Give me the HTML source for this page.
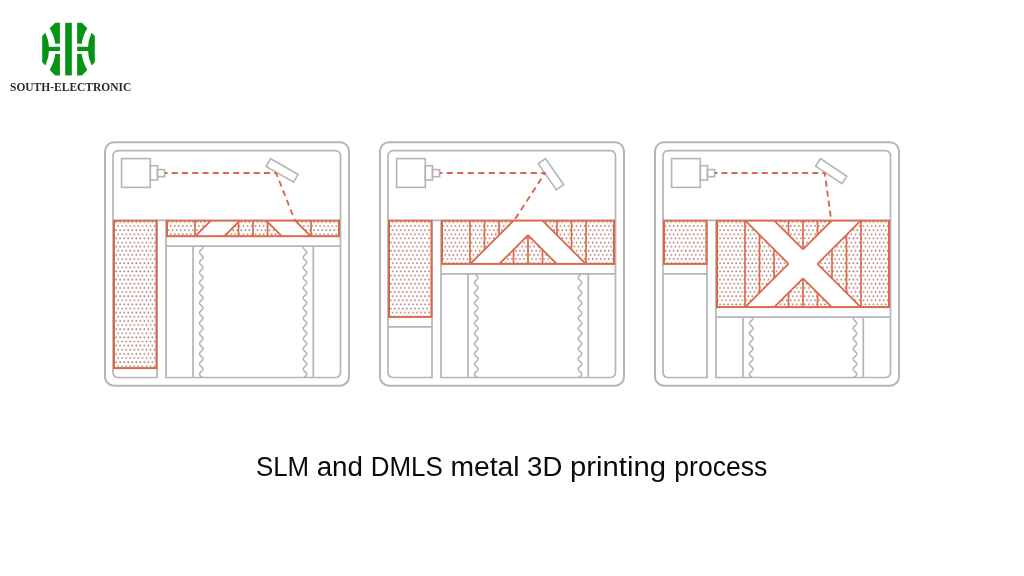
<!DOCTYPE html>
<html><head><meta charset="utf-8"><style>
html,body{margin:0;padding:0;background:#fff;width:1024px;height:576px;overflow:hidden}
svg{position:absolute;left:0;top:0;will-change:transform}
.t{position:absolute;white-space:nowrap;line-height:1}
</style></head><body>
<svg width="1024" height="576" viewBox="0 0 1024 576">
<defs>
<pattern id="dots0" patternUnits="userSpaceOnUse" x="115.1" y="219.84" width="4.04" height="8.25"><circle cx="1.0" cy="2.06" r="0.88" fill="#ad7265"/><circle cx="3.02" cy="6.185" r="0.88" fill="#ad7265"/></pattern><pattern id="dots1" patternUnits="userSpaceOnUse" x="116.7" y="219.84" width="4.04" height="8.25"><circle cx="1.0" cy="2.06" r="0.88" fill="#ad7265"/><circle cx="3.02" cy="6.185" r="0.88" fill="#ad7265"/></pattern><pattern id="dots2" patternUnits="userSpaceOnUse" x="116.5" y="219.84" width="4.04" height="8.25"><circle cx="1.0" cy="2.06" r="0.88" fill="#ad7265"/><circle cx="3.02" cy="6.185" r="0.88" fill="#ad7265"/></pattern>
</defs>
<g fill="#069416"><path d="M42.2,36.1 L45.5,32.8 A40.4,40.4 0 0 1 45.5,65.6 L42.2,62.3 Z M55.2,22.8 H59.9 V43.7 H55.2 A39.28,39.28 0 0 0 49.7,28.3 Z M55.2,75.4 H59.9 V54.0 H55.2 A39.28,39.28 0 0 1 49.7,69.9 Z M46.5,46.8 H59.9 V50.9 H46.5 Z"/><path d="M42.2,36.1 L45.5,32.8 A40.4,40.4 0 0 1 45.5,65.6 L42.2,62.3 Z M55.2,22.8 H59.9 V43.7 H55.2 A39.28,39.28 0 0 0 49.7,28.3 Z M55.2,75.4 H59.9 V54.0 H55.2 A39.28,39.28 0 0 1 49.7,69.9 Z M46.5,46.8 H59.9 V50.9 H46.5 Z" transform="translate(137,0) scale(-1,1)"/><rect x="65.2" y="22.8" width="6.6" height="52.6"/></g>
<text x="10" y="90.8" font-family="Liberation Serif" font-weight="bold" font-size="12.2" fill="#2b2b2b" textLength="121.3" lengthAdjust="spacingAndGlyphs">SOUTH-ELECTRONIC</text>
<g transform="translate(0,0)"><rect x="105" y="142.2" width="244" height="243.5" rx="9" fill="none" stroke="#b5b5b6" stroke-width="2"/><path d="M113,220.4 V155.6 A5,5 0 0 1 118,150.6 H335.5 A5,5 0 0 1 340.5,155.6 V372.5 A5,5 0 0 1 335.5,377.5 H166 V220.4 H157 V377.5 H118 A5,5 0 0 1 113,372.5 Z" fill="none" stroke="#b5b5b6" stroke-width="1.7"/><rect x="121.6" y="158.6" width="28.7" height="28.8" fill="none" stroke="#b5b5b6" stroke-width="1.6"/><rect x="150.3" y="165.7" width="7.2" height="14.3" fill="none" stroke="#b5b5b6" stroke-width="1.6"/><rect x="157.5" y="169.6" width="7.1" height="7.1" fill="none" stroke="#b5b5b6" stroke-width="1.6"/><rect x="0" y="0" width="31.7" height="8.9" fill="none" stroke="#b5b5b6" stroke-width="1.6" transform="translate(270.5,158.7) rotate(29.7)"/><path d="M166,246.2 H340.5 M193,246.2 V377.5 M313.3,246.2 V377.5" fill="none" stroke="#b5b5b6" stroke-width="1.7"/><path d="M202.66,246.2 L202.76,246.37 L202.84,246.53 L202.91,246.7 L202.96,246.87 L202.99,247.03 L203,247.2 L202.99,247.37 L202.97,247.53 L202.92,247.7 L202.86,247.87 L202.78,248.04 L202.69,248.2 L202.58,248.37 L202.45,248.54 L202.32,248.7 L202.17,248.87 L202.01,249.04 L201.84,249.2 L201.67,249.37 L201.49,249.54 L201.31,249.7 L201.13,249.87 L200.95,250.04 L200.78,250.2 L200.61,250.37 L200.44,250.54 L200.29,250.7 L200.14,250.87 L200.01,251.04 L199.89,251.21 L199.78,251.37 L199.69,251.54 L199.62,251.71 L199.56,251.87 L199.52,252.04 L199.5,252.21 L199.5,252.37 L199.52,252.54 L199.56,252.71 L199.61,252.87 L199.68,253.04 L199.77,253.21 L199.87,253.37 L199.99,253.54 L200.12,253.71 L200.27,253.87 L200.42,254.04 L200.59,254.21 L200.76,254.37 L200.93,254.54 L201.11,254.71 L201.29,254.88 L201.47,255.04 L201.65,255.21 L201.82,255.38 L201.99,255.54 L202.15,255.71 L202.3,255.88 L202.44,256.04 L202.56,256.21 L202.68,256.38 L202.77,256.54 L202.85,256.71 L202.92,256.88 L202.96,257.04 L202.99,257.21 L203,257.38 L202.99,257.54 L202.96,257.71 L202.92,257.88 L202.85,258.05 L202.77,258.21 L202.67,258.38 L202.56,258.55 L202.43,258.71 L202.29,258.88 L202.14,259.05 L201.98,259.21 L201.82,259.38 L201.64,259.55 L201.46,259.71 L201.28,259.88 L201.1,260.05 L200.93,260.21 L200.75,260.38 L200.58,260.55 L200.42,260.71 L200.26,260.88 L200.12,261.05 L199.99,261.22 L199.87,261.38 L199.77,261.55 L199.68,261.72 L199.61,261.88 L199.55,262.05 L199.52,262.22 L199.5,262.38 L199.5,262.55 L199.52,262.72 L199.56,262.88 L199.62,263.05 L199.69,263.22 L199.78,263.38 L199.89,263.55 L200.01,263.72 L200.15,263.88 L200.29,264.05 L200.45,264.22 L200.61,264.39 L200.78,264.55 L200.96,264.72 L201.14,264.89 L201.32,265.05 L201.5,265.22 L201.68,265.39 L201.85,265.55 L202.02,265.72 L202.17,265.89 L202.32,266.05 L202.46,266.22 L202.58,266.39 L202.69,266.55 L202.79,266.72 L202.87,266.89 L202.93,267.05 L202.97,267.22 L202.99,267.39 L203,267.56 L202.99,267.72 L202.96,267.89 L202.91,268.06 L202.84,268.22 L202.76,268.39 L202.66,268.56 L202.54,268.72 L202.41,268.89 L202.27,269.06 L202.12,269.22 L201.96,269.39 L201.79,269.56 L201.61,269.72 L201.44,269.89 L201.26,270.06 L201.07,270.22 L200.9,270.39 L200.72,270.56 L200.55,270.72 L200.39,270.89 L200.24,271.06 L200.1,271.23 L199.97,271.39 L199.85,271.56 L199.75,271.73 L199.67,271.89 L199.6,272.06 L199.55,272.23 L199.51,272.39 L199.5,272.56 L199.51,272.73 L199.53,272.89 L199.57,273.06 L199.63,273.23 L199.71,273.39 L199.8,273.56 L199.91,273.73 L200.03,273.89 L200.17,274.06 L200.32,274.23 L200.47,274.4 L200.64,274.56 L200.81,274.73 L200.99,274.9 L201.17,275.06 L201.35,275.23 L201.53,275.4 L201.71,275.56 L201.88,275.73 L202.04,275.9 L202.2,276.06 L202.35,276.23 L202.48,276.4 L202.6,276.56 L202.71,276.73 L202.8,276.9 L202.88,277.06 L202.93,277.23 L202.97,277.4 L203,277.57 L203,277.73 L202.98,277.9 L202.95,278.07 L202.9,278.23 L202.83,278.4 L202.74,278.57 L202.64,278.73 L202.52,278.9 L202.39,279.07 L202.25,279.23 L202.09,279.4 L201.93,279.57 L201.76,279.73 L201.59,279.9 L201.41,280.07 L201.23,280.23 L201.05,280.4 L200.87,280.57 L200.69,280.74 L200.53,280.9 L200.37,281.07 L200.21,281.24 L200.07,281.4 L199.95,281.57 L199.83,281.74 L199.74,281.9 L199.65,282.07 L199.59,282.24 L199.54,282.4 L199.51,282.57 L199.5,282.74 L199.51,282.9 L199.53,283.07 L199.58,283.24 L199.64,283.4 L199.72,283.57 L199.82,283.74 L199.93,283.9 L200.05,284.07 L200.19,284.24 L200.34,284.41 L200.5,284.57 L200.67,284.74 L200.84,284.91 L201.02,285.07 L201.2,285.24 L201.38,285.41 L201.56,285.57 L201.73,285.74 L201.9,285.91 L202.07,286.07 L202.22,286.24 L202.37,286.41 L202.5,286.57 L202.62,286.74 L202.73,286.91 L202.81,287.07 L202.89,287.24 L202.94,287.41 L202.98,287.58 L203,287.74 L203,287.91 L202.98,288.08 L202.94,288.24 L202.89,288.41 L202.81,288.58 L202.72,288.74 L202.62,288.91 L202.5,289.08 L202.37,289.24 L202.22,289.41 L202.07,289.58 L201.9,289.74 L201.73,289.91 L201.56,290.08 L201.38,290.24 L201.2,290.41 L201.02,290.58 L200.84,290.75 L200.67,290.91 L200.5,291.08 L200.34,291.25 L200.19,291.41 L200.05,291.58 L199.93,291.75 L199.82,291.91 L199.72,292.08 L199.64,292.25 L199.58,292.41 L199.53,292.58 L199.51,292.75 L199.5,292.91 L199.51,293.08 L199.54,293.25 L199.59,293.41 L199.65,293.58 L199.74,293.75 L199.83,293.92 L199.95,294.08 L200.08,294.25 L200.22,294.42 L200.37,294.58 L200.53,294.75 L200.69,294.92 L200.87,295.08 L201.05,295.25 L201.23,295.42 L201.41,295.58 L201.59,295.75 L201.76,295.92 L201.93,296.08 L202.09,296.25 L202.25,296.42 L202.39,296.58 L202.52,296.75 L202.64,296.92 L202.74,297.09 L202.83,297.25 L202.9,297.42 L202.95,297.59 L202.98,297.75 L203,297.92 L203,298.09 L202.97,298.25 L202.93,298.42 L202.88,298.59 L202.8,298.75 L202.71,298.92 L202.6,299.09 L202.48,299.25 L202.34,299.42 L202.2,299.59 L202.04,299.75 L201.88,299.92 L201.7,300.09 L201.53,300.25 L201.35,300.42 L201.17,300.59 L200.99,300.76 L200.81,300.92 L200.64,301.09 L200.47,301.26 L200.32,301.42 L200.17,301.59 L200.03,301.76 L199.91,301.92 L199.8,302.09 L199.71,302.26 L199.63,302.42 L199.57,302.59 L199.53,302.76 L199.51,302.92 L199.5,303.09 L199.51,303.26 L199.55,303.42 L199.6,303.59 L199.67,303.76 L199.75,303.93 L199.85,304.09 L199.97,304.26 L200.1,304.43 L200.24,304.59 L200.39,304.76 L200.55,304.93 L200.72,305.09 L200.9,305.26 L201.08,305.43 L201.26,305.59 L201.44,305.76 L201.62,305.93 L201.79,306.09 L201.96,306.26 L202.12,306.43 L202.27,306.59 L202.41,306.76 L202.54,306.93 L202.66,307.1 L202.76,307.26 L202.84,307.43 L202.91,307.6 L202.96,307.76 L202.99,307.93 L203,308.1 L202.99,308.26 L202.97,308.43 L202.93,308.6 L202.87,308.76 L202.79,308.93 L202.69,309.1 L202.58,309.26 L202.46,309.43 L202.32,309.6 L202.17,309.76 L202.02,309.93 L201.85,310.1 L201.68,310.27 L201.5,310.43 L201.32,310.6 L201.14,310.77 L200.96,310.93 L200.78,311.1 L200.61,311.27 L200.45,311.43 L200.29,311.6 L200.14,311.77 L200.01,311.93 L199.89,312.1 L199.78,312.27 L199.69,312.43 L199.62,312.6 L199.56,312.77 L199.52,312.93 L199.5,313.1 L199.5,313.27 L199.52,313.43 L199.55,313.6 L199.61,313.77 L199.68,313.94 L199.77,314.1 L199.87,314.27 L199.99,314.44 L200.12,314.6 L200.26,314.77 L200.42,314.94 L200.58,315.1 L200.75,315.27 L200.93,315.44 L201.11,315.6 L201.29,315.77 L201.47,315.94 L201.64,316.1 L201.82,316.27 L201.99,316.44 L202.15,316.6 L202.3,316.77 L202.43,316.94 L202.56,317.11 L202.67,317.27 L202.77,317.44 L202.85,317.61 L202.92,317.77 L202.96,317.94 L202.99,318.11 L203,318.27 L202.99,318.44 L202.96,318.61 L202.92,318.77 L202.85,318.94 L202.77,319.11 L202.68,319.27 L202.56,319.44 L202.44,319.61 L202.3,319.77 L202.15,319.94 L201.99,320.11 L201.82,320.28 L201.65,320.44 L201.47,320.61 L201.29,320.78 L201.11,320.94 L200.93,321.11 L200.75,321.28 L200.58,321.44 L200.42,321.61 L200.27,321.78 L200.12,321.94 L199.99,322.11 L199.87,322.28 L199.77,322.44 L199.68,322.61 L199.61,322.78 L199.55,322.94 L199.52,323.11 L199.5,323.28 L199.5,323.45 L199.52,323.61 L199.56,323.78 L199.62,323.95 L199.69,324.11 L199.78,324.28 L199.89,324.45 L200.01,324.61 L200.14,324.78 L200.29,324.95 L200.44,325.11 L200.61,325.28 L200.78,325.45 L200.96,325.61 L201.13,325.78 L201.32,325.95 L201.5,326.11 L201.67,326.28 L201.85,326.45 L202.01,326.61 L202.17,326.78 L202.32,326.95 L202.46,327.12 L202.58,327.28 L202.69,327.45 L202.79,327.62 L202.86,327.78 L202.92,327.95 L202.97,328.12 L202.99,328.28 L203,328.45 L202.99,328.62 L202.96,328.78 L202.91,328.95 L202.84,329.12 L202.76,329.28 L202.66,329.45 L202.54,329.62 L202.42,329.78 L202.27,329.95 L202.12,330.12 L201.96,330.29 L201.79,330.45 L201.62,330.62 L201.44,330.79 L201.26,330.95 L201.08,331.12 L200.9,331.29 L200.73,331.45 L200.56,331.62 L200.4,331.79 L200.24,331.95 L200.1,332.12 L199.97,332.29 L199.85,332.45 L199.75,332.62 L199.67,332.79 L199.6,332.95 L199.55,333.12 L199.51,333.29 L199.5,333.46 L199.5,333.62 L199.53,333.79 L199.57,333.96 L199.63,334.12 L199.7,334.29 L199.8,334.46 L199.91,334.62 L200.03,334.79 L200.16,334.96 L200.31,335.12 L200.47,335.29 L200.63,335.46 L200.81,335.62 L200.98,335.79 L201.16,335.96 L201.34,336.12 L201.52,336.29 L201.7,336.46 L201.87,336.63 L202.04,336.79 L202.19,336.96 L202.34,337.13 L202.48,337.29 L202.6,337.46 L202.71,337.63 L202.8,337.79 L202.87,337.96 L202.93,338.13 L202.97,338.29 L203,338.46 L203,338.63 L202.98,338.79 L202.95,338.96 L202.9,339.13 L202.83,339.29 L202.74,339.46 L202.64,339.63 L202.52,339.8 L202.39,339.96 L202.25,340.13 L202.1,340.3 L201.94,340.46 L201.77,340.63 L201.59,340.8 L201.41,340.96 L201.23,341.13 L201.05,341.3 L200.87,341.46 L200.7,341.63 L200.53,341.8 L200.37,341.96 L200.22,342.13 L200.08,342.3 L199.95,342.46 L199.84,342.63 L199.74,342.8 L199.66,342.96 L199.59,343.13 L199.54,343.3 L199.51,343.47 L199.5,343.63 L199.51,343.8 L199.53,343.97 L199.58,344.13 L199.64,344.3 L199.72,344.47 L199.81,344.63 L199.93,344.8 L200.05,344.97 L200.19,345.13 L200.34,345.3 L200.5,345.47 L200.66,345.63 L200.84,345.8 L201.01,345.97 L201.19,346.13 L201.37,346.3 L201.55,346.47 L201.73,346.64 L201.9,346.8 L202.06,346.97 L202.22,347.14 L202.36,347.3 L202.5,347.47 L202.62,347.64 L202.72,347.8 L202.81,347.97 L202.89,348.14 L202.94,348.3 L202.98,348.47 L203,348.64 L203,348.8 L202.98,348.97 L202.94,349.14 L202.89,349.3 L202.82,349.47 L202.73,349.64 L202.62,349.81 L202.5,349.97 L202.37,350.14 L202.23,350.31 L202.07,350.47 L201.91,350.64 L201.74,350.81 L201.56,350.97 L201.38,351.14 L201.2,351.31 L201.02,351.47 L200.84,351.64 L200.67,351.81 L200.5,351.97 L200.34,352.14 L200.2,352.31 L200.06,352.47 L199.93,352.64 L199.82,352.81 L199.72,352.98 L199.64,353.14 L199.58,353.31 L199.54,353.48 L199.51,353.64 L199.5,353.81 L199.51,353.98 L199.54,354.14 L199.59,354.31 L199.65,354.48 L199.73,354.64 L199.83,354.81 L199.94,354.98 L200.07,355.14 L200.21,355.31 L200.36,355.48 L200.52,355.64 L200.69,355.81 L200.86,355.98 L201.04,356.14 L201.22,356.31 L201.4,356.48 L201.58,356.65 L201.76,356.81 L201.93,356.98 L202.09,357.15 L202.24,357.31 L202.39,357.48 L202.52,357.65 L202.64,357.81 L202.74,357.98 L202.83,358.15 L202.9,358.31 L202.95,358.48 L202.98,358.65 L203,358.81 L203,358.98 L202.98,359.15 L202.94,359.31 L202.88,359.48 L202.8,359.65 L202.71,359.82 L202.6,359.98 L202.48,360.15 L202.35,360.32 L202.2,360.48 L202.05,360.65 L201.88,360.82 L201.71,360.98 L201.53,361.15 L201.35,361.32 L201.17,361.48 L200.99,361.65 L200.82,361.82 L200.64,361.98 L200.48,362.15 L200.32,362.32 L200.17,362.48 L200.04,362.65 L199.91,362.82 L199.8,362.99 L199.71,363.15 L199.63,363.32 L199.57,363.49 L199.53,363.65 L199.51,363.82 L199.5,363.99 L199.51,364.15 L199.55,364.32 L199.6,364.49 L199.66,364.65 L199.75,364.82 L199.85,364.99 L199.96,365.15 L200.09,365.32 L200.23,365.49 L200.39,365.65 L200.55,365.82 L200.72,365.99 L200.89,366.16 L201.07,366.32 L201.25,366.49 L201.43,366.66 L201.61,366.82 L201.78,366.99 L201.95,367.16 L202.12,367.32 L202.27,367.49 L202.41,367.66 L202.54,367.82 L202.65,367.99 L202.75,368.16 L202.84,368.32 L202.91,368.49 L202.95,368.66 L202.99,368.82 L203,368.99 L202.99,369.16 L202.97,369.33 L202.93,369.49 L202.87,369.66 L202.79,369.83 L202.7,369.99 L202.59,370.16 L202.46,370.33 L202.33,370.49 L202.18,370.66 L202.02,370.83 L201.85,370.99 L201.68,371.16 L201.5,371.33 L201.32,371.49 L201.14,371.66 L200.96,371.83 L200.79,371.99 L200.62,372.16 L200.45,372.33 L200.3,372.49 L200.15,372.66 L200.01,372.83 L199.89,373 L199.79,373.16 L199.7,373.33 L199.62,373.5 L199.56,373.66 L199.52,373.83 L199.5,374 L199.5,374.16 L199.52,374.33 L199.55,374.5 L199.61,374.66 L199.68,374.83 L199.76,375 L199.87,375.16 L199.98,375.33 L200.12,375.5 L200.26,375.66 L200.41,375.83 L200.58,376 L200.75,376.17 L200.92,376.33 L201.1,376.5 L201.28,376.67 L201.46,376.83 L201.64,377 L201.81,377.17 L201.98,377.33 L202.14,377.5" fill="none" stroke="#b5b5b6" stroke-width="1.6"/><path d="M303.54,246.2 L303.44,246.37 L303.36,246.53 L303.29,246.7 L303.24,246.87 L303.21,247.03 L303.2,247.2 L303.21,247.37 L303.23,247.53 L303.28,247.7 L303.34,247.87 L303.42,248.04 L303.51,248.2 L303.62,248.37 L303.75,248.54 L303.88,248.7 L304.03,248.87 L304.19,249.04 L304.36,249.2 L304.53,249.37 L304.71,249.54 L304.89,249.7 L305.07,249.87 L305.25,250.04 L305.42,250.2 L305.59,250.37 L305.76,250.54 L305.91,250.7 L306.06,250.87 L306.19,251.04 L306.31,251.21 L306.42,251.37 L306.51,251.54 L306.58,251.71 L306.64,251.87 L306.68,252.04 L306.7,252.21 L306.7,252.37 L306.68,252.54 L306.64,252.71 L306.59,252.87 L306.52,253.04 L306.43,253.21 L306.33,253.37 L306.21,253.54 L306.08,253.71 L305.93,253.87 L305.78,254.04 L305.61,254.21 L305.44,254.37 L305.27,254.54 L305.09,254.71 L304.91,254.88 L304.73,255.04 L304.55,255.21 L304.38,255.38 L304.21,255.54 L304.05,255.71 L303.9,255.88 L303.76,256.04 L303.64,256.21 L303.52,256.38 L303.43,256.54 L303.35,256.71 L303.28,256.88 L303.24,257.04 L303.21,257.21 L303.2,257.38 L303.21,257.54 L303.24,257.71 L303.28,257.88 L303.35,258.05 L303.43,258.21 L303.53,258.38 L303.64,258.55 L303.77,258.71 L303.91,258.88 L304.06,259.05 L304.22,259.21 L304.38,259.38 L304.56,259.55 L304.74,259.71 L304.92,259.88 L305.1,260.05 L305.27,260.21 L305.45,260.38 L305.62,260.55 L305.78,260.71 L305.94,260.88 L306.08,261.05 L306.21,261.22 L306.33,261.38 L306.43,261.55 L306.52,261.72 L306.59,261.88 L306.65,262.05 L306.68,262.22 L306.7,262.38 L306.7,262.55 L306.68,262.72 L306.64,262.88 L306.58,263.05 L306.51,263.22 L306.42,263.38 L306.31,263.55 L306.19,263.72 L306.05,263.88 L305.91,264.05 L305.75,264.22 L305.59,264.39 L305.42,264.55 L305.24,264.72 L305.06,264.89 L304.88,265.05 L304.7,265.22 L304.52,265.39 L304.35,265.55 L304.18,265.72 L304.03,265.89 L303.88,266.05 L303.74,266.22 L303.62,266.39 L303.51,266.55 L303.41,266.72 L303.33,266.89 L303.27,267.05 L303.23,267.22 L303.21,267.39 L303.2,267.56 L303.21,267.72 L303.24,267.89 L303.29,268.06 L303.36,268.22 L303.44,268.39 L303.54,268.56 L303.66,268.72 L303.79,268.89 L303.93,269.06 L304.08,269.22 L304.24,269.39 L304.41,269.56 L304.59,269.72 L304.76,269.89 L304.94,270.06 L305.13,270.22 L305.3,270.39 L305.48,270.56 L305.65,270.72 L305.81,270.89 L305.96,271.06 L306.1,271.23 L306.23,271.39 L306.35,271.56 L306.45,271.73 L306.53,271.89 L306.6,272.06 L306.65,272.23 L306.69,272.39 L306.7,272.56 L306.69,272.73 L306.67,272.89 L306.63,273.06 L306.57,273.23 L306.49,273.39 L306.4,273.56 L306.29,273.73 L306.17,273.89 L306.03,274.06 L305.88,274.23 L305.73,274.4 L305.56,274.56 L305.39,274.73 L305.21,274.9 L305.03,275.06 L304.85,275.23 L304.67,275.4 L304.49,275.56 L304.32,275.73 L304.16,275.9 L304,276.06 L303.85,276.23 L303.72,276.4 L303.6,276.56 L303.49,276.73 L303.4,276.9 L303.32,277.06 L303.27,277.23 L303.23,277.4 L303.2,277.57 L303.2,277.73 L303.22,277.9 L303.25,278.07 L303.3,278.23 L303.37,278.4 L303.46,278.57 L303.56,278.73 L303.68,278.9 L303.81,279.07 L303.95,279.23 L304.11,279.4 L304.27,279.57 L304.44,279.73 L304.61,279.9 L304.79,280.07 L304.97,280.23 L305.15,280.4 L305.33,280.57 L305.51,280.74 L305.67,280.9 L305.83,281.07 L305.99,281.24 L306.13,281.4 L306.25,281.57 L306.37,281.74 L306.46,281.9 L306.55,282.07 L306.61,282.24 L306.66,282.4 L306.69,282.57 L306.7,282.74 L306.69,282.9 L306.67,283.07 L306.62,283.24 L306.56,283.4 L306.48,283.57 L306.38,283.74 L306.27,283.9 L306.15,284.07 L306.01,284.24 L305.86,284.41 L305.7,284.57 L305.53,284.74 L305.36,284.91 L305.18,285.07 L305,285.24 L304.82,285.41 L304.64,285.57 L304.47,285.74 L304.3,285.91 L304.13,286.07 L303.98,286.24 L303.83,286.41 L303.7,286.57 L303.58,286.74 L303.47,286.91 L303.39,287.07 L303.31,287.24 L303.26,287.41 L303.22,287.58 L303.2,287.74 L303.2,287.91 L303.22,288.08 L303.26,288.24 L303.31,288.41 L303.39,288.58 L303.48,288.74 L303.58,288.91 L303.7,289.08 L303.83,289.24 L303.98,289.41 L304.13,289.58 L304.3,289.74 L304.47,289.91 L304.64,290.08 L304.82,290.24 L305,290.41 L305.18,290.58 L305.36,290.75 L305.53,290.91 L305.7,291.08 L305.86,291.25 L306.01,291.41 L306.15,291.58 L306.27,291.75 L306.38,291.91 L306.48,292.08 L306.56,292.25 L306.62,292.41 L306.67,292.58 L306.69,292.75 L306.7,292.91 L306.69,293.08 L306.66,293.25 L306.61,293.41 L306.55,293.58 L306.46,293.75 L306.37,293.92 L306.25,294.08 L306.12,294.25 L305.98,294.42 L305.83,294.58 L305.67,294.75 L305.51,294.92 L305.33,295.08 L305.15,295.25 L304.97,295.42 L304.79,295.58 L304.61,295.75 L304.44,295.92 L304.27,296.08 L304.11,296.25 L303.95,296.42 L303.81,296.58 L303.68,296.75 L303.56,296.92 L303.46,297.09 L303.37,297.25 L303.3,297.42 L303.25,297.59 L303.22,297.75 L303.2,297.92 L303.2,298.09 L303.23,298.25 L303.27,298.42 L303.32,298.59 L303.4,298.75 L303.49,298.92 L303.6,299.09 L303.72,299.25 L303.86,299.42 L304,299.59 L304.16,299.75 L304.32,299.92 L304.5,300.09 L304.67,300.25 L304.85,300.42 L305.03,300.59 L305.21,300.76 L305.39,300.92 L305.56,301.09 L305.73,301.26 L305.88,301.42 L306.03,301.59 L306.17,301.76 L306.29,301.92 L306.4,302.09 L306.49,302.26 L306.57,302.42 L306.63,302.59 L306.67,302.76 L306.69,302.92 L306.7,303.09 L306.69,303.26 L306.65,303.42 L306.6,303.59 L306.53,303.76 L306.45,303.93 L306.35,304.09 L306.23,304.26 L306.1,304.43 L305.96,304.59 L305.81,304.76 L305.65,304.93 L305.48,305.09 L305.3,305.26 L305.12,305.43 L304.94,305.59 L304.76,305.76 L304.58,305.93 L304.41,306.09 L304.24,306.26 L304.08,306.43 L303.93,306.59 L303.79,306.76 L303.66,306.93 L303.54,307.1 L303.44,307.26 L303.36,307.43 L303.29,307.6 L303.24,307.76 L303.21,307.93 L303.2,308.1 L303.21,308.26 L303.23,308.43 L303.27,308.6 L303.33,308.76 L303.41,308.93 L303.51,309.1 L303.62,309.26 L303.74,309.43 L303.88,309.6 L304.03,309.76 L304.18,309.93 L304.35,310.1 L304.52,310.27 L304.7,310.43 L304.88,310.6 L305.06,310.77 L305.24,310.93 L305.42,311.1 L305.59,311.27 L305.75,311.43 L305.91,311.6 L306.06,311.77 L306.19,311.93 L306.31,312.1 L306.42,312.27 L306.51,312.43 L306.58,312.6 L306.64,312.77 L306.68,312.93 L306.7,313.1 L306.7,313.27 L306.68,313.43 L306.65,313.6 L306.59,313.77 L306.52,313.94 L306.43,314.1 L306.33,314.27 L306.21,314.44 L306.08,314.6 L305.94,314.77 L305.78,314.94 L305.62,315.1 L305.45,315.27 L305.27,315.44 L305.09,315.6 L304.91,315.77 L304.73,315.94 L304.56,316.1 L304.38,316.27 L304.21,316.44 L304.05,316.6 L303.9,316.77 L303.77,316.94 L303.64,317.11 L303.53,317.27 L303.43,317.44 L303.35,317.61 L303.28,317.77 L303.24,317.94 L303.21,318.11 L303.2,318.27 L303.21,318.44 L303.24,318.61 L303.28,318.77 L303.35,318.94 L303.43,319.11 L303.52,319.27 L303.64,319.44 L303.76,319.61 L303.9,319.77 L304.05,319.94 L304.21,320.11 L304.38,320.28 L304.55,320.44 L304.73,320.61 L304.91,320.78 L305.09,320.94 L305.27,321.11 L305.45,321.28 L305.62,321.44 L305.78,321.61 L305.93,321.78 L306.08,321.94 L306.21,322.11 L306.33,322.28 L306.43,322.44 L306.52,322.61 L306.59,322.78 L306.65,322.94 L306.68,323.11 L306.7,323.28 L306.7,323.45 L306.68,323.61 L306.64,323.78 L306.58,323.95 L306.51,324.11 L306.42,324.28 L306.31,324.45 L306.19,324.61 L306.06,324.78 L305.91,324.95 L305.76,325.11 L305.59,325.28 L305.42,325.45 L305.24,325.61 L305.07,325.78 L304.88,325.95 L304.7,326.11 L304.53,326.28 L304.35,326.45 L304.19,326.61 L304.03,326.78 L303.88,326.95 L303.74,327.12 L303.62,327.28 L303.51,327.45 L303.41,327.62 L303.34,327.78 L303.28,327.95 L303.23,328.12 L303.21,328.28 L303.2,328.45 L303.21,328.62 L303.24,328.78 L303.29,328.95 L303.36,329.12 L303.44,329.28 L303.54,329.45 L303.66,329.62 L303.78,329.78 L303.93,329.95 L304.08,330.12 L304.24,330.29 L304.41,330.45 L304.58,330.62 L304.76,330.79 L304.94,330.95 L305.12,331.12 L305.3,331.29 L305.47,331.45 L305.64,331.62 L305.8,331.79 L305.96,331.95 L306.1,332.12 L306.23,332.29 L306.35,332.45 L306.45,332.62 L306.53,332.79 L306.6,332.95 L306.65,333.12 L306.69,333.29 L306.7,333.46 L306.7,333.62 L306.67,333.79 L306.63,333.96 L306.57,334.12 L306.5,334.29 L306.4,334.46 L306.29,334.62 L306.17,334.79 L306.04,334.96 L305.89,335.12 L305.73,335.29 L305.57,335.46 L305.39,335.62 L305.22,335.79 L305.04,335.96 L304.86,336.12 L304.68,336.29 L304.5,336.46 L304.33,336.63 L304.16,336.79 L304.01,336.96 L303.86,337.13 L303.72,337.29 L303.6,337.46 L303.49,337.63 L303.4,337.79 L303.33,337.96 L303.27,338.13 L303.23,338.29 L303.2,338.46 L303.2,338.63 L303.22,338.79 L303.25,338.96 L303.3,339.13 L303.37,339.29 L303.46,339.46 L303.56,339.63 L303.68,339.8 L303.81,339.96 L303.95,340.13 L304.1,340.3 L304.26,340.46 L304.43,340.63 L304.61,340.8 L304.79,340.96 L304.97,341.13 L305.15,341.3 L305.33,341.46 L305.5,341.63 L305.67,341.8 L305.83,341.96 L305.98,342.13 L306.12,342.3 L306.25,342.46 L306.36,342.63 L306.46,342.8 L306.54,342.96 L306.61,343.13 L306.66,343.3 L306.69,343.47 L306.7,343.63 L306.69,343.8 L306.67,343.97 L306.62,344.13 L306.56,344.3 L306.48,344.47 L306.39,344.63 L306.27,344.8 L306.15,344.97 L306.01,345.13 L305.86,345.3 L305.7,345.47 L305.54,345.63 L305.36,345.8 L305.19,345.97 L305.01,346.13 L304.83,346.3 L304.65,346.47 L304.47,346.64 L304.3,346.8 L304.14,346.97 L303.98,347.14 L303.84,347.3 L303.7,347.47 L303.58,347.64 L303.48,347.8 L303.39,347.97 L303.31,348.14 L303.26,348.3 L303.22,348.47 L303.2,348.64 L303.2,348.8 L303.22,348.97 L303.26,349.14 L303.31,349.3 L303.38,349.47 L303.47,349.64 L303.58,349.81 L303.7,349.97 L303.83,350.14 L303.97,350.31 L304.13,350.47 L304.29,350.64 L304.46,350.81 L304.64,350.97 L304.82,351.14 L305,351.31 L305.18,351.47 L305.36,351.64 L305.53,351.81 L305.7,351.97 L305.86,352.14 L306,352.31 L306.14,352.47 L306.27,352.64 L306.38,352.81 L306.48,352.98 L306.56,353.14 L306.62,353.31 L306.66,353.48 L306.69,353.64 L306.7,353.81 L306.69,353.98 L306.66,354.14 L306.61,354.31 L306.55,354.48 L306.47,354.64 L306.37,354.81 L306.26,354.98 L306.13,355.14 L305.99,355.31 L305.84,355.48 L305.68,355.64 L305.51,355.81 L305.34,355.98 L305.16,356.14 L304.98,356.31 L304.8,356.48 L304.62,356.65 L304.44,356.81 L304.27,356.98 L304.11,357.15 L303.96,357.31 L303.81,357.48 L303.68,357.65 L303.56,357.81 L303.46,357.98 L303.37,358.15 L303.3,358.31 L303.25,358.48 L303.22,358.65 L303.2,358.81 L303.2,358.98 L303.22,359.15 L303.26,359.31 L303.32,359.48 L303.4,359.65 L303.49,359.82 L303.6,359.98 L303.72,360.15 L303.85,360.32 L304,360.48 L304.15,360.65 L304.32,360.82 L304.49,360.98 L304.67,361.15 L304.85,361.32 L305.03,361.48 L305.21,361.65 L305.38,361.82 L305.56,361.98 L305.72,362.15 L305.88,362.32 L306.03,362.48 L306.16,362.65 L306.29,362.82 L306.4,362.99 L306.49,363.15 L306.57,363.32 L306.63,363.49 L306.67,363.65 L306.69,363.82 L306.7,363.99 L306.69,364.15 L306.65,364.32 L306.6,364.49 L306.54,364.65 L306.45,364.82 L306.35,364.99 L306.24,365.15 L306.11,365.32 L305.97,365.49 L305.81,365.65 L305.65,365.82 L305.48,365.99 L305.31,366.16 L305.13,366.32 L304.95,366.49 L304.77,366.66 L304.59,366.82 L304.42,366.99 L304.25,367.16 L304.08,367.32 L303.93,367.49 L303.79,367.66 L303.66,367.82 L303.55,367.99 L303.45,368.16 L303.36,368.32 L303.29,368.49 L303.25,368.66 L303.21,368.82 L303.2,368.99 L303.21,369.16 L303.23,369.33 L303.27,369.49 L303.33,369.66 L303.41,369.83 L303.5,369.99 L303.61,370.16 L303.74,370.33 L303.87,370.49 L304.02,370.66 L304.18,370.83 L304.35,370.99 L304.52,371.16 L304.7,371.33 L304.88,371.49 L305.06,371.66 L305.24,371.83 L305.41,371.99 L305.58,372.16 L305.75,372.33 L305.9,372.49 L306.05,372.66 L306.19,372.83 L306.31,373 L306.41,373.16 L306.5,373.33 L306.58,373.5 L306.64,373.66 L306.68,373.83 L306.7,374 L306.7,374.16 L306.68,374.33 L306.65,374.5 L306.59,374.66 L306.52,374.83 L306.44,375 L306.33,375.16 L306.22,375.33 L306.08,375.5 L305.94,375.66 L305.79,375.83 L305.62,376 L305.45,376.17 L305.28,376.33 L305.1,376.5 L304.92,376.67 L304.74,376.83 L304.56,377 L304.39,377.17 L304.22,377.33 L304.06,377.5" fill="none" stroke="#b5b5b6" stroke-width="1.6"/><rect x="114" y="220.6" width="42.5" height="147.5" fill="url(#dots0)" stroke="#d9694a" stroke-width="2.0"/><clipPath id="clip0"><rect x="167" y="220.6" width="172" height="15.6"/></clipPath><rect x="167" y="220.6" width="172" height="15.6" fill="url(#dots0)"/><g clip-path="url(#clip0)"><path d="M195,220.6 V236.2 M209.5,220.6 V236.2 M224,220.6 V236.2 M238.5,220.6 V236.2 M253,220.6 V236.2 M267.5,220.6 V236.2 M282,220.6 V236.2 M296.5,220.6 V236.2 M311,220.6 V236.2" stroke="#d9694a" stroke-width="1.65" fill="none"/><polygon points="133,58.45 373,298.45 373,327.45 133,87.45" fill="#fff"/><polygon points="133,298.45 373,58.45 373,87.45 133,327.45" fill="#fff"/><path d="M238.5,192.95 L118.5,72.95 M238.5,192.95 L118.5,312.95 M253,178.45 L133,58.45 M253,178.45 L373,58.45 M267.5,192.95 L387.5,72.95 M267.5,192.95 L387.5,312.95 M253,207.45 L133,327.45 M253,207.45 L373,327.45" stroke="#d9694a" stroke-width="1.8" fill="none" stroke-linejoin="miter"/></g><rect x="167" y="220.6" width="172" height="15.6" fill="none" stroke="#d9694a" stroke-width="2.0"/><path d="M165,173 H276.1 L295,220.6" fill="none" stroke="#d9694a" stroke-width="1.9" stroke-dasharray="6.1 4.15" stroke-dashoffset="3.55" stroke-linejoin="round"/></g>
<g transform="translate(275,0)"><rect x="105" y="142.2" width="244" height="243.5" rx="9" fill="none" stroke="#b5b5b6" stroke-width="2"/><path d="M113,220.4 V155.6 A5,5 0 0 1 118,150.6 H335.5 A5,5 0 0 1 340.5,155.6 V372.5 A5,5 0 0 1 335.5,377.5 H166 V220.4 H157 V377.5 H118 A5,5 0 0 1 113,372.5 Z" fill="none" stroke="#b5b5b6" stroke-width="1.7"/><rect x="121.6" y="158.6" width="28.7" height="28.8" fill="none" stroke="#b5b5b6" stroke-width="1.6"/><rect x="150.3" y="165.7" width="7.2" height="14.3" fill="none" stroke="#b5b5b6" stroke-width="1.6"/><rect x="157.5" y="169.6" width="7.1" height="7.1" fill="none" stroke="#b5b5b6" stroke-width="1.6"/><rect x="0" y="0" width="31.7" height="8.9" fill="none" stroke="#b5b5b6" stroke-width="1.6" transform="translate(270.5,158.7) rotate(55)"/><path d="M113,326.9 H157 M166,273.9 H340.5 M193,273.9 V377.5 M313.3,273.9 V377.5" fill="none" stroke="#b5b5b6" stroke-width="1.7"/><path d="M200.04,273.9 L200.17,274.07 L200.32,274.23 L200.48,274.4 L200.65,274.57 L200.82,274.73 L200.99,274.9 L201.17,275.07 L201.36,275.23 L201.53,275.4 L201.71,275.57 L201.88,275.74 L202.05,275.9 L202.2,276.07 L202.35,276.24 L202.48,276.4 L202.61,276.57 L202.71,276.74 L202.8,276.9 L202.88,277.07 L202.94,277.24 L202.98,277.4 L203,277.57 L203,277.74 L202.98,277.9 L202.95,278.07 L202.89,278.24 L202.82,278.4 L202.74,278.57 L202.63,278.74 L202.52,278.9 L202.39,279.07 L202.24,279.24 L202.09,279.41 L201.93,279.57 L201.76,279.74 L201.58,279.91 L201.4,280.07 L201.22,280.24 L201.04,280.41 L200.86,280.57 L200.69,280.74 L200.52,280.91 L200.36,281.07 L200.21,281.24 L200.07,281.41 L199.94,281.57 L199.83,281.74 L199.73,281.91 L199.65,282.07 L199.59,282.24 L199.54,282.41 L199.51,282.58 L199.5,282.74 L199.51,282.91 L199.54,283.08 L199.58,283.24 L199.64,283.41 L199.72,283.58 L199.82,283.74 L199.93,283.91 L200.06,284.08 L200.2,284.24 L200.35,284.41 L200.5,284.58 L200.67,284.74 L200.85,284.91 L201.02,285.08 L201.2,285.24 L201.38,285.41 L201.56,285.58 L201.74,285.74 L201.91,285.91 L202.07,286.08 L202.23,286.25 L202.37,286.41 L202.5,286.58 L202.62,286.75 L202.73,286.91 L202.82,287.08 L202.89,287.25 L202.94,287.41 L202.98,287.58 L203,287.75 L203,287.91 L202.98,288.08 L202.94,288.25 L202.88,288.41 L202.81,288.58 L202.72,288.75 L202.62,288.91 L202.5,289.08 L202.36,289.25 L202.22,289.41 L202.06,289.58 L201.9,289.75 L201.73,289.92 L201.55,290.08 L201.37,290.25 L201.19,290.42 L201.01,290.58 L200.83,290.75 L200.66,290.92 L200.49,291.08 L200.34,291.25 L200.19,291.42 L200.05,291.58 L199.92,291.75 L199.81,291.92 L199.72,292.08 L199.64,292.25 L199.58,292.42 L199.53,292.58 L199.51,292.75 L199.5,292.92 L199.51,293.09 L199.54,293.25 L199.59,293.42 L199.66,293.59 L199.74,293.75 L199.84,293.92 L199.95,294.09 L200.08,294.25 L200.22,294.42 L200.37,294.59 L200.53,294.75 L200.7,294.92 L200.87,295.09 L201.05,295.25 L201.23,295.42 L201.41,295.59 L201.59,295.75 L201.77,295.92 L201.94,296.09 L202.1,296.25 L202.25,296.42 L202.39,296.59 L202.52,296.76 L202.64,296.92 L202.74,297.09 L202.83,297.26 L202.9,297.42 L202.95,297.59 L202.98,297.76 L203,297.92 L203,298.09 L202.97,298.26 L202.93,298.42 L202.87,298.59 L202.8,298.76 L202.71,298.92 L202.6,299.09 L202.48,299.26 L202.34,299.42 L202.19,299.59 L202.04,299.76 L201.87,299.93 L201.7,300.09 L201.52,300.26 L201.34,300.43 L201.16,300.59 L200.98,300.76 L200.81,300.93 L200.63,301.09 L200.47,301.26 L200.31,301.43 L200.16,301.59 L200.03,301.76 L199.91,301.93 L199.8,302.09 L199.7,302.26 L199.63,302.43 L199.57,302.59 L199.53,302.76 L199.5,302.93 L199.5,303.09 L199.52,303.26 L199.55,303.43 L199.6,303.6 L199.67,303.76 L199.75,303.93 L199.85,304.1 L199.97,304.26 L200.1,304.43 L200.24,304.6 L200.4,304.76 L200.56,304.93 L200.73,305.1 L200.9,305.26 L201.08,305.43 L201.26,305.6 L201.44,305.76 L201.62,305.93 L201.79,306.1 L201.96,306.26 L202.12,306.43 L202.27,306.6 L202.42,306.77 L202.54,306.93 L202.66,307.1 L202.76,307.27 L202.84,307.43 L202.91,307.6 L202.96,307.77 L202.99,307.93 L203,308.1 L202.99,308.27 L202.97,308.43 L202.92,308.6 L202.86,308.77 L202.79,308.93 L202.69,309.1 L202.58,309.27 L202.46,309.43 L202.32,309.6 L202.17,309.77 L202.01,309.93 L201.85,310.1 L201.67,310.27 L201.5,310.44 L201.32,310.6 L201.13,310.77 L200.96,310.94 L200.78,311.1 L200.61,311.27 L200.44,311.44 L200.29,311.6 L200.14,311.77 L200.01,311.94 L199.89,312.1 L199.78,312.27 L199.69,312.44 L199.62,312.6 L199.56,312.77 L199.52,312.94 L199.5,313.1 L199.5,313.27 L199.52,313.44 L199.55,313.6 L199.61,313.77 L199.68,313.94 L199.77,314.11 L199.87,314.27 L199.99,314.44 L200.12,314.61 L200.27,314.77 L200.42,314.94 L200.58,315.11 L200.75,315.27 L200.93,315.44 L201.11,315.61 L201.29,315.77 L201.47,315.94 L201.65,316.11 L201.82,316.27 L201.99,316.44 L202.15,316.61 L202.3,316.77 L202.44,316.94 L202.56,317.11 L202.68,317.28 L202.77,317.44 L202.85,317.61 L202.92,317.78 L202.96,317.94 L202.99,318.11 L203,318.28 L202.99,318.44 L202.96,318.61 L202.92,318.78 L202.85,318.94 L202.77,319.11 L202.67,319.28 L202.56,319.44 L202.44,319.61 L202.3,319.78 L202.15,319.94 L201.99,320.11 L201.82,320.28 L201.64,320.44 L201.47,320.61 L201.29,320.78 L201.11,320.95 L200.93,321.11 L200.75,321.28 L200.58,321.45 L200.42,321.61 L200.26,321.78 L200.12,321.95 L199.99,322.11 L199.87,322.28 L199.77,322.45 L199.68,322.61 L199.61,322.78 L199.55,322.95 L199.52,323.11 L199.5,323.28 L199.5,323.45 L199.52,323.61 L199.56,323.78 L199.62,323.95 L199.69,324.12 L199.78,324.28 L199.89,324.45 L200.01,324.62 L200.14,324.78 L200.29,324.95 L200.45,325.12 L200.61,325.28 L200.78,325.45 L200.96,325.62 L201.14,325.78 L201.32,325.95 L201.5,326.12 L201.68,326.28 L201.85,326.45 L202.01,326.62 L202.17,326.78 L202.32,326.95 L202.46,327.12 L202.58,327.28 L202.69,327.45 L202.79,327.62 L202.86,327.79 L202.93,327.95 L202.97,328.12 L202.99,328.29 L203,328.45 L202.99,328.62 L202.96,328.79 L202.91,328.95 L202.84,329.12 L202.76,329.29 L202.66,329.45 L202.54,329.62 L202.41,329.79 L202.27,329.95 L202.12,330.12 L201.96,330.29 L201.79,330.45 L201.62,330.62 L201.44,330.79 L201.26,330.96 L201.08,331.12 L200.9,331.29 L200.72,331.46 L200.55,331.62 L200.39,331.79 L200.24,331.96 L200.1,332.12 L199.97,332.29 L199.85,332.46 L199.75,332.62 L199.67,332.79 L199.6,332.96 L199.55,333.12 L199.51,333.29 L199.5,333.46 L199.51,333.62 L199.53,333.79 L199.57,333.96 L199.63,334.12 L199.71,334.29 L199.8,334.46 L199.91,334.63 L200.03,334.79 L200.17,334.96 L200.31,335.13 L200.47,335.29 L200.64,335.46 L200.81,335.63 L200.99,335.79 L201.17,335.96 L201.35,336.13 L201.53,336.29 L201.7,336.46 L201.87,336.63 L202.04,336.79 L202.2,336.96 L202.34,337.13 L202.48,337.29 L202.6,337.46 L202.71,337.63 L202.8,337.8 L202.88,337.96 L202.93,338.13 L202.97,338.3 L203,338.46 L203,338.63 L202.98,338.8 L202.95,338.96 L202.9,339.13 L202.83,339.3 L202.74,339.46 L202.64,339.63 L202.52,339.8 L202.39,339.96 L202.25,340.13 L202.1,340.3 L201.93,340.46 L201.76,340.63 L201.59,340.8 L201.41,340.96 L201.23,341.13 L201.05,341.3 L200.87,341.47 L200.7,341.63 L200.53,341.8 L200.37,341.97 L200.22,342.13 L200.08,342.3 L199.95,342.47 L199.84,342.63 L199.74,342.8 L199.65,342.97 L199.59,343.13 L199.54,343.3 L199.51,343.47 L199.5,343.63 L199.51,343.8 L199.53,343.97 L199.58,344.13 L199.64,344.3 L199.72,344.47 L199.82,344.63 L199.93,344.8 L200.05,344.97 L200.19,345.14 L200.34,345.3 L200.5,345.47 L200.66,345.64 L200.84,345.8 L201.01,345.97 L201.19,346.14 L201.38,346.3 L201.55,346.47 L201.73,346.64 L201.9,346.8 L202.07,346.97 L202.22,347.14 L202.37,347.3 L202.5,347.47 L202.62,347.64 L202.72,347.8 L202.81,347.97 L202.89,348.14 L202.94,348.31 L202.98,348.47 L203,348.64 L203,348.81 L202.98,348.97 L202.94,349.14 L202.89,349.31 L202.82,349.47 L202.73,349.64 L202.62,349.81 L202.5,349.97 L202.37,350.14 L202.23,350.31 L202.07,350.47 L201.91,350.64 L201.74,350.81 L201.56,350.97 L201.38,351.14 L201.2,351.31 L201.02,351.47 L200.84,351.64 L200.67,351.81 L200.5,351.98 L200.34,352.14 L200.19,352.31 L200.06,352.48 L199.93,352.64 L199.82,352.81 L199.72,352.98 L199.64,353.14 L199.58,353.31 L199.53,353.48 L199.51,353.64 L199.5,353.81 L199.51,353.98 L199.54,354.14 L199.59,354.31 L199.65,354.48 L199.73,354.64 L199.83,354.81 L199.95,354.98 L200.07,355.15 L200.21,355.31 L200.36,355.48 L200.52,355.65 L200.69,355.81 L200.87,355.98 L201.04,356.15 L201.22,356.31 L201.4,356.48 L201.58,356.65 L201.76,356.81 L201.93,356.98 L202.09,357.15 L202.24,357.31 L202.39,357.48 L202.52,357.65 L202.64,357.81 L202.74,357.98 L202.83,358.15 L202.9,358.31 L202.95,358.48 L202.98,358.65 L203,358.82 L203,358.98 L202.97,359.15 L202.94,359.32 L202.88,359.48 L202.8,359.65 L202.71,359.82 L202.6,359.98 L202.48,360.15 L202.35,360.32 L202.2,360.48 L202.05,360.65 L201.88,360.82 L201.71,360.98 L201.53,361.15 L201.35,361.32 L201.17,361.48 L200.99,361.65 L200.82,361.82 L200.64,361.99 L200.48,362.15 L200.32,362.32 L200.17,362.49 L200.03,362.65 L199.91,362.82 L199.8,362.99 L199.71,363.15 L199.63,363.32 L199.57,363.49 L199.53,363.65 L199.51,363.82 L199.5,363.99 L199.51,364.15 L199.55,364.32 L199.6,364.49 L199.66,364.65 L199.75,364.82 L199.85,364.99 L199.96,365.15 L200.09,365.32 L200.24,365.49 L200.39,365.66 L200.55,365.82 L200.72,365.99 L200.89,366.16 L201.07,366.32 L201.25,366.49 L201.43,366.66 L201.61,366.82 L201.79,366.99 L201.95,367.16 L202.12,367.32 L202.27,367.49 L202.41,367.66 L202.54,367.82 L202.65,367.99 L202.75,368.16 L202.84,368.32 L202.91,368.49 L202.96,368.66 L202.99,368.82 L203,368.99 L202.99,369.16 L202.97,369.33 L202.93,369.49 L202.87,369.66 L202.79,369.83 L202.7,369.99 L202.59,370.16 L202.46,370.33 L202.33,370.49 L202.18,370.66 L202.02,370.83 L201.85,370.99 L201.68,371.16 L201.5,371.33 L201.32,371.49 L201.14,371.66 L200.96,371.83 L200.79,371.99 L200.62,372.16 L200.45,372.33 L200.29,372.5 L200.15,372.66 L200.01,372.83 L199.89,373 L199.79,373.16 L199.7,373.33 L199.62,373.5 L199.56,373.66 L199.52,373.83 L199.5,374 L199.5,374.16 L199.52,374.33 L199.55,374.5 L199.61,374.66 L199.68,374.83 L199.76,375 L199.87,375.16 L199.98,375.33 L200.12,375.5 L200.26,375.66 L200.41,375.83 L200.58,376 L200.75,376.17 L200.92,376.33 L201.1,376.5 L201.28,376.67 L201.46,376.83 L201.64,377 L201.81,377.17 L201.98,377.33 L202.14,377.5" fill="none" stroke="#b5b5b6" stroke-width="1.6"/><path d="M306.16,273.9 L306.03,274.07 L305.88,274.23 L305.72,274.4 L305.55,274.57 L305.38,274.73 L305.21,274.9 L305.03,275.07 L304.84,275.23 L304.67,275.4 L304.49,275.57 L304.32,275.74 L304.15,275.9 L304,276.07 L303.85,276.24 L303.72,276.4 L303.59,276.57 L303.49,276.74 L303.4,276.9 L303.32,277.07 L303.26,277.24 L303.22,277.4 L303.2,277.57 L303.2,277.74 L303.22,277.9 L303.25,278.07 L303.31,278.24 L303.38,278.4 L303.46,278.57 L303.57,278.74 L303.68,278.9 L303.81,279.07 L303.96,279.24 L304.11,279.41 L304.27,279.57 L304.44,279.74 L304.62,279.91 L304.8,280.07 L304.98,280.24 L305.16,280.41 L305.34,280.57 L305.51,280.74 L305.68,280.91 L305.84,281.07 L305.99,281.24 L306.13,281.41 L306.26,281.57 L306.37,281.74 L306.47,281.91 L306.55,282.07 L306.61,282.24 L306.66,282.41 L306.69,282.58 L306.7,282.74 L306.69,282.91 L306.66,283.08 L306.62,283.24 L306.56,283.41 L306.48,283.58 L306.38,283.74 L306.27,283.91 L306.14,284.08 L306,284.24 L305.85,284.41 L305.7,284.58 L305.53,284.74 L305.35,284.91 L305.18,285.08 L305,285.24 L304.82,285.41 L304.64,285.58 L304.46,285.74 L304.29,285.91 L304.13,286.08 L303.97,286.25 L303.83,286.41 L303.7,286.58 L303.58,286.75 L303.47,286.91 L303.38,287.08 L303.31,287.25 L303.26,287.41 L303.22,287.58 L303.2,287.75 L303.2,287.91 L303.22,288.08 L303.26,288.25 L303.32,288.41 L303.39,288.58 L303.48,288.75 L303.58,288.91 L303.7,289.08 L303.84,289.25 L303.98,289.41 L304.14,289.58 L304.3,289.75 L304.47,289.92 L304.65,290.08 L304.83,290.25 L305.01,290.42 L305.19,290.58 L305.37,290.75 L305.54,290.92 L305.71,291.08 L305.86,291.25 L306.01,291.42 L306.15,291.58 L306.28,291.75 L306.39,291.92 L306.48,292.08 L306.56,292.25 L306.62,292.42 L306.67,292.58 L306.69,292.75 L306.7,292.92 L306.69,293.09 L306.66,293.25 L306.61,293.42 L306.54,293.59 L306.46,293.75 L306.36,293.92 L306.25,294.09 L306.12,294.25 L305.98,294.42 L305.83,294.59 L305.67,294.75 L305.5,294.92 L305.33,295.09 L305.15,295.25 L304.97,295.42 L304.79,295.59 L304.61,295.75 L304.43,295.92 L304.26,296.09 L304.1,296.25 L303.95,296.42 L303.81,296.59 L303.68,296.76 L303.56,296.92 L303.46,297.09 L303.37,297.26 L303.3,297.42 L303.25,297.59 L303.22,297.76 L303.2,297.92 L303.2,298.09 L303.23,298.26 L303.27,298.42 L303.33,298.59 L303.4,298.76 L303.49,298.92 L303.6,299.09 L303.72,299.26 L303.86,299.42 L304.01,299.59 L304.16,299.76 L304.33,299.93 L304.5,300.09 L304.68,300.26 L304.86,300.43 L305.04,300.59 L305.22,300.76 L305.39,300.93 L305.57,301.09 L305.73,301.26 L305.89,301.43 L306.04,301.59 L306.17,301.76 L306.29,301.93 L306.4,302.09 L306.5,302.26 L306.57,302.43 L306.63,302.59 L306.67,302.76 L306.7,302.93 L306.7,303.09 L306.68,303.26 L306.65,303.43 L306.6,303.6 L306.53,303.76 L306.45,303.93 L306.35,304.1 L306.23,304.26 L306.1,304.43 L305.96,304.6 L305.8,304.76 L305.64,304.93 L305.47,305.1 L305.3,305.26 L305.12,305.43 L304.94,305.6 L304.76,305.76 L304.58,305.93 L304.41,306.1 L304.24,306.26 L304.08,306.43 L303.93,306.6 L303.78,306.77 L303.66,306.93 L303.54,307.1 L303.44,307.27 L303.36,307.43 L303.29,307.6 L303.24,307.77 L303.21,307.93 L303.2,308.1 L303.21,308.27 L303.23,308.43 L303.28,308.6 L303.34,308.77 L303.41,308.93 L303.51,309.1 L303.62,309.27 L303.74,309.43 L303.88,309.6 L304.03,309.77 L304.19,309.93 L304.35,310.1 L304.53,310.27 L304.7,310.44 L304.88,310.6 L305.07,310.77 L305.24,310.94 L305.42,311.1 L305.59,311.27 L305.76,311.44 L305.91,311.6 L306.06,311.77 L306.19,311.94 L306.31,312.1 L306.42,312.27 L306.51,312.44 L306.58,312.6 L306.64,312.77 L306.68,312.94 L306.7,313.1 L306.7,313.27 L306.68,313.44 L306.65,313.6 L306.59,313.77 L306.52,313.94 L306.43,314.11 L306.33,314.27 L306.21,314.44 L306.08,314.61 L305.93,314.77 L305.78,314.94 L305.62,315.11 L305.45,315.27 L305.27,315.44 L305.09,315.61 L304.91,315.77 L304.73,315.94 L304.55,316.11 L304.38,316.27 L304.21,316.44 L304.05,316.61 L303.9,316.77 L303.76,316.94 L303.64,317.11 L303.52,317.28 L303.43,317.44 L303.35,317.61 L303.28,317.78 L303.24,317.94 L303.21,318.11 L303.2,318.28 L303.21,318.44 L303.24,318.61 L303.28,318.78 L303.35,318.94 L303.43,319.11 L303.53,319.28 L303.64,319.44 L303.76,319.61 L303.9,319.78 L304.05,319.94 L304.21,320.11 L304.38,320.28 L304.56,320.44 L304.73,320.61 L304.91,320.78 L305.09,320.95 L305.27,321.11 L305.45,321.28 L305.62,321.45 L305.78,321.61 L305.94,321.78 L306.08,321.95 L306.21,322.11 L306.33,322.28 L306.43,322.45 L306.52,322.61 L306.59,322.78 L306.65,322.95 L306.68,323.11 L306.7,323.28 L306.7,323.45 L306.68,323.61 L306.64,323.78 L306.58,323.95 L306.51,324.12 L306.42,324.28 L306.31,324.45 L306.19,324.62 L306.06,324.78 L305.91,324.95 L305.75,325.12 L305.59,325.28 L305.42,325.45 L305.24,325.62 L305.06,325.78 L304.88,325.95 L304.7,326.12 L304.52,326.28 L304.35,326.45 L304.19,326.62 L304.03,326.78 L303.88,326.95 L303.74,327.12 L303.62,327.28 L303.51,327.45 L303.41,327.62 L303.34,327.79 L303.27,327.95 L303.23,328.12 L303.21,328.29 L303.2,328.45 L303.21,328.62 L303.24,328.79 L303.29,328.95 L303.36,329.12 L303.44,329.29 L303.54,329.45 L303.66,329.62 L303.79,329.79 L303.93,329.95 L304.08,330.12 L304.24,330.29 L304.41,330.45 L304.58,330.62 L304.76,330.79 L304.94,330.96 L305.12,331.12 L305.3,331.29 L305.48,331.46 L305.65,331.62 L305.81,331.79 L305.96,331.96 L306.1,332.12 L306.23,332.29 L306.35,332.46 L306.45,332.62 L306.53,332.79 L306.6,332.96 L306.65,333.12 L306.69,333.29 L306.7,333.46 L306.69,333.62 L306.67,333.79 L306.63,333.96 L306.57,334.12 L306.49,334.29 L306.4,334.46 L306.29,334.63 L306.17,334.79 L306.03,334.96 L305.89,335.13 L305.73,335.29 L305.56,335.46 L305.39,335.63 L305.21,335.79 L305.03,335.96 L304.85,336.13 L304.67,336.29 L304.5,336.46 L304.33,336.63 L304.16,336.79 L304,336.96 L303.86,337.13 L303.72,337.29 L303.6,337.46 L303.49,337.63 L303.4,337.8 L303.32,337.96 L303.27,338.13 L303.23,338.3 L303.2,338.46 L303.2,338.63 L303.22,338.8 L303.25,338.96 L303.3,339.13 L303.37,339.3 L303.46,339.46 L303.56,339.63 L303.68,339.8 L303.81,339.96 L303.95,340.13 L304.1,340.3 L304.27,340.46 L304.44,340.63 L304.61,340.8 L304.79,340.96 L304.97,341.13 L305.15,341.3 L305.33,341.47 L305.5,341.63 L305.67,341.8 L305.83,341.97 L305.98,342.13 L306.12,342.3 L306.25,342.47 L306.36,342.63 L306.46,342.8 L306.55,342.97 L306.61,343.13 L306.66,343.3 L306.69,343.47 L306.7,343.63 L306.69,343.8 L306.67,343.97 L306.62,344.13 L306.56,344.3 L306.48,344.47 L306.38,344.63 L306.27,344.8 L306.15,344.97 L306.01,345.14 L305.86,345.3 L305.7,345.47 L305.54,345.64 L305.36,345.8 L305.19,345.97 L305.01,346.14 L304.82,346.3 L304.65,346.47 L304.47,346.64 L304.3,346.8 L304.13,346.97 L303.98,347.14 L303.83,347.3 L303.7,347.47 L303.58,347.64 L303.48,347.8 L303.39,347.97 L303.31,348.14 L303.26,348.31 L303.22,348.47 L303.2,348.64 L303.2,348.81 L303.22,348.97 L303.26,349.14 L303.31,349.31 L303.38,349.47 L303.47,349.64 L303.58,349.81 L303.7,349.97 L303.83,350.14 L303.97,350.31 L304.13,350.47 L304.29,350.64 L304.46,350.81 L304.64,350.97 L304.82,351.14 L305,351.31 L305.18,351.47 L305.36,351.64 L305.53,351.81 L305.7,351.98 L305.86,352.14 L306.01,352.31 L306.14,352.48 L306.27,352.64 L306.38,352.81 L306.48,352.98 L306.56,353.14 L306.62,353.31 L306.67,353.48 L306.69,353.64 L306.7,353.81 L306.69,353.98 L306.66,354.14 L306.61,354.31 L306.55,354.48 L306.47,354.64 L306.37,354.81 L306.25,354.98 L306.13,355.15 L305.99,355.31 L305.84,355.48 L305.68,355.65 L305.51,355.81 L305.33,355.98 L305.16,356.15 L304.98,356.31 L304.8,356.48 L304.62,356.65 L304.44,356.81 L304.27,356.98 L304.11,357.15 L303.96,357.31 L303.81,357.48 L303.68,357.65 L303.56,357.81 L303.46,357.98 L303.37,358.15 L303.3,358.31 L303.25,358.48 L303.22,358.65 L303.2,358.82 L303.2,358.98 L303.23,359.15 L303.26,359.32 L303.32,359.48 L303.4,359.65 L303.49,359.82 L303.6,359.98 L303.72,360.15 L303.85,360.32 L304,360.48 L304.15,360.65 L304.32,360.82 L304.49,360.98 L304.67,361.15 L304.85,361.32 L305.03,361.48 L305.21,361.65 L305.38,361.82 L305.56,361.99 L305.72,362.15 L305.88,362.32 L306.03,362.49 L306.17,362.65 L306.29,362.82 L306.4,362.99 L306.49,363.15 L306.57,363.32 L306.63,363.49 L306.67,363.65 L306.69,363.82 L306.7,363.99 L306.69,364.15 L306.65,364.32 L306.6,364.49 L306.54,364.65 L306.45,364.82 L306.35,364.99 L306.24,365.15 L306.11,365.32 L305.96,365.49 L305.81,365.66 L305.65,365.82 L305.48,365.99 L305.31,366.16 L305.13,366.32 L304.95,366.49 L304.77,366.66 L304.59,366.82 L304.41,366.99 L304.25,367.16 L304.08,367.32 L303.93,367.49 L303.79,367.66 L303.66,367.82 L303.55,367.99 L303.45,368.16 L303.36,368.32 L303.29,368.49 L303.24,368.66 L303.21,368.82 L303.2,368.99 L303.21,369.16 L303.23,369.33 L303.27,369.49 L303.33,369.66 L303.41,369.83 L303.5,369.99 L303.61,370.16 L303.74,370.33 L303.87,370.49 L304.02,370.66 L304.18,370.83 L304.35,370.99 L304.52,371.16 L304.7,371.33 L304.88,371.49 L305.06,371.66 L305.24,371.83 L305.41,371.99 L305.58,372.16 L305.75,372.33 L305.91,372.5 L306.05,372.66 L306.19,372.83 L306.31,373 L306.41,373.16 L306.5,373.33 L306.58,373.5 L306.64,373.66 L306.68,373.83 L306.7,374 L306.7,374.16 L306.68,374.33 L306.65,374.5 L306.59,374.66 L306.52,374.83 L306.44,375 L306.33,375.16 L306.22,375.33 L306.08,375.5 L305.94,375.66 L305.79,375.83 L305.62,376 L305.45,376.17 L305.28,376.33 L305.1,376.5 L304.92,376.67 L304.74,376.83 L304.56,377 L304.39,377.17 L304.22,377.33 L304.06,377.5" fill="none" stroke="#b5b5b6" stroke-width="1.6"/><rect x="114" y="220.6" width="42.5" height="96.3" fill="url(#dots1)" stroke="#d9694a" stroke-width="2.0"/><clipPath id="clip275"><rect x="167" y="220.6" width="172" height="43.3"/></clipPath><rect x="167" y="220.6" width="172" height="43.3" fill="url(#dots1)"/><g clip-path="url(#clip275)"><path d="M195,220.6 V263.9 M209.5,220.6 V263.9 M224,220.6 V263.9 M238.5,220.6 V263.9 M253,220.6 V263.9 M267.5,220.6 V263.9 M282,220.6 V263.9 M296.5,220.6 V263.9 M311,220.6 V263.9" stroke="#d9694a" stroke-width="1.65" fill="none"/><polygon points="133,86.15 373,326.15 373,355.15 133,115.15" fill="#fff"/><polygon points="133,326.15 373,86.15 373,115.15 133,355.15" fill="#fff"/><path d="M238.5,220.65 L118.5,100.65 M238.5,220.65 L118.5,340.65 M253,206.15 L133,86.15 M253,206.15 L373,86.15 M267.5,220.65 L387.5,100.65 M267.5,220.65 L387.5,340.65 M253,235.15 L133,355.15 M253,235.15 L373,355.15" stroke="#d9694a" stroke-width="1.8" fill="none" stroke-linejoin="miter"/></g><rect x="167" y="220.6" width="172" height="43.3" fill="none" stroke="#d9694a" stroke-width="2.0"/><path d="M165,173 H270 L239.1,220.6" fill="none" stroke="#d9694a" stroke-width="1.9" stroke-dasharray="6.2 4.3" stroke-dashoffset="3.8" stroke-linejoin="round"/></g>
<g transform="translate(550,0)"><rect x="105" y="142.2" width="244" height="243.5" rx="9" fill="none" stroke="#b5b5b6" stroke-width="2"/><path d="M113,220.4 V155.6 A5,5 0 0 1 118,150.6 H335.5 A5,5 0 0 1 340.5,155.6 V372.5 A5,5 0 0 1 335.5,377.5 H166 V220.4 H157 V377.5 H118 A5,5 0 0 1 113,372.5 Z" fill="none" stroke="#b5b5b6" stroke-width="1.7"/><rect x="121.6" y="158.6" width="28.7" height="28.8" fill="none" stroke="#b5b5b6" stroke-width="1.6"/><rect x="150.3" y="165.7" width="7.2" height="14.3" fill="none" stroke="#b5b5b6" stroke-width="1.6"/><rect x="157.5" y="169.6" width="7.1" height="7.1" fill="none" stroke="#b5b5b6" stroke-width="1.6"/><rect x="0" y="0" width="31.7" height="8.9" fill="none" stroke="#b5b5b6" stroke-width="1.6" transform="translate(270.5,158.7) rotate(33.7)"/><path d="M113,273.9 H157 M166,317.1 H340.5 M193,317.1 V377.5 M313.3,317.1 V377.5" fill="none" stroke="#b5b5b6" stroke-width="1.7"/><path d="M202.56,317.1 L202.67,317.27 L202.77,317.43 L202.85,317.6 L202.91,317.77 L202.96,317.93 L202.99,318.1 L203,318.27 L202.99,318.43 L202.96,318.6 L202.92,318.77 L202.86,318.94 L202.78,319.1 L202.68,319.27 L202.57,319.44 L202.44,319.6 L202.3,319.77 L202.15,319.94 L201.99,320.1 L201.83,320.27 L201.65,320.44 L201.48,320.6 L201.3,320.77 L201.11,320.94 L200.94,321.1 L200.76,321.27 L200.59,321.44 L200.43,321.6 L200.27,321.77 L200.13,321.94 L199.99,322.11 L199.88,322.27 L199.77,322.44 L199.68,322.61 L199.61,322.77 L199.56,322.94 L199.52,323.11 L199.5,323.27 L199.5,323.44 L199.52,323.61 L199.56,323.77 L199.62,323.94 L199.69,324.11 L199.78,324.27 L199.88,324.44 L200,324.61 L200.14,324.78 L200.28,324.94 L200.44,325.11 L200.6,325.28 L200.77,325.44 L200.95,325.61 L201.13,325.78 L201.31,325.94 L201.49,326.11 L201.67,326.28 L201.84,326.44 L202.01,326.61 L202.17,326.78 L202.31,326.94 L202.45,327.11 L202.58,327.28 L202.69,327.44 L202.78,327.61 L202.86,327.78 L202.92,327.95 L202.97,328.11 L202.99,328.28 L203,328.45 L202.99,328.61 L202.96,328.78 L202.91,328.95 L202.84,329.11 L202.76,329.28 L202.66,329.45 L202.55,329.61 L202.42,329.78 L202.28,329.95 L202.13,330.11 L201.97,330.28 L201.8,330.45 L201.62,330.61 L201.45,330.78 L201.27,330.95 L201.08,331.12 L200.91,331.28 L200.73,331.45 L200.56,331.62 L200.4,331.78 L200.25,331.95 L200.1,332.12 L199.97,332.28 L199.86,332.45 L199.75,332.62 L199.67,332.78 L199.6,332.95 L199.55,333.12 L199.52,333.28 L199.5,333.45 L199.5,333.62 L199.53,333.79 L199.57,333.95 L199.63,334.12 L199.7,334.29 L199.8,334.45 L199.9,334.62 L200.03,334.79 L200.16,334.95 L200.31,335.12 L200.47,335.29 L200.63,335.45 L200.8,335.62 L200.98,335.79 L201.16,335.95 L201.34,336.12 L201.52,336.29 L201.7,336.45 L201.87,336.62 L202.03,336.79 L202.19,336.96 L202.34,337.12 L202.47,337.29 L202.6,337.46 L202.7,337.62 L202.8,337.79 L202.87,337.96 L202.93,338.12 L202.97,338.29 L203,338.46 L203,338.62 L202.98,338.79 L202.95,338.96 L202.9,339.12 L202.83,339.29 L202.75,339.46 L202.64,339.62 L202.53,339.79 L202.4,339.96 L202.25,340.13 L202.1,340.29 L201.94,340.46 L201.77,340.63 L201.59,340.79 L201.42,340.96 L201.23,341.13 L201.05,341.29 L200.88,341.46 L200.7,341.63 L200.53,341.79 L200.37,341.96 L200.22,342.13 L200.08,342.29 L199.95,342.46 L199.84,342.63 L199.74,342.8 L199.66,342.96 L199.59,343.13 L199.54,343.3 L199.51,343.46 L199.5,343.63 L199.51,343.8 L199.53,343.96 L199.58,344.13 L199.64,344.3 L199.72,344.46 L199.81,344.63 L199.92,344.8 L200.05,344.96 L200.19,345.13 L200.33,345.3 L200.49,345.46 L200.66,345.63 L200.83,345.8 L201.01,345.97 L201.19,346.13 L201.37,346.3 L201.55,346.47 L201.73,346.63 L201.9,346.8 L202.06,346.97 L202.22,347.13 L202.36,347.3 L202.5,347.47 L202.62,347.63 L202.72,347.8 L202.81,347.97 L202.88,348.13 L202.94,348.3 L202.98,348.47 L203,348.63 L203,348.8 L202.98,348.97 L202.94,349.14 L202.89,349.3 L202.82,349.47 L202.73,349.64 L202.62,349.8 L202.51,349.97 L202.37,350.14 L202.23,350.3 L202.07,350.47 L201.91,350.64 L201.74,350.8 L201.56,350.97 L201.39,351.14 L201.2,351.3 L201.02,351.47 L200.85,351.64 L200.67,351.8 L200.51,351.97 L200.35,352.14 L200.2,352.31 L200.06,352.47 L199.93,352.64 L199.82,352.81 L199.72,352.97 L199.64,353.14 L199.58,353.31 L199.54,353.47 L199.51,353.64 L199.5,353.81 L199.51,353.97 L199.54,354.14 L199.59,354.31 L199.65,354.47 L199.73,354.64 L199.83,354.81 L199.94,354.98 L200.07,355.14 L200.21,355.31 L200.36,355.48 L200.52,355.64 L200.69,355.81 L200.86,355.98 L201.04,356.14 L201.22,356.31 L201.4,356.48 L201.58,356.64 L201.76,356.81 L201.93,356.98 L202.09,357.14 L202.24,357.31 L202.39,357.48 L202.52,357.64 L202.63,357.81 L202.74,357.98 L202.82,358.15 L202.89,358.31 L202.95,358.48 L202.98,358.65 L203,358.81 L203,358.98 L202.98,359.15 L202.94,359.31 L202.88,359.48 L202.8,359.65 L202.71,359.81 L202.61,359.98 L202.48,360.15 L202.35,360.31 L202.2,360.48 L202.05,360.65 L201.88,360.81 L201.71,360.98 L201.53,361.15 L201.36,361.32 L201.17,361.48 L200.99,361.65 L200.82,361.82 L200.64,361.98 L200.48,362.15 L200.32,362.32 L200.17,362.48 L200.04,362.65 L199.91,362.82 L199.8,362.98 L199.71,363.15 L199.63,363.32 L199.57,363.48 L199.53,363.65 L199.51,363.82 L199.5,363.99 L199.51,364.15 L199.55,364.32 L199.6,364.49 L199.66,364.65 L199.75,364.82 L199.85,364.99 L199.96,365.15 L200.09,365.32 L200.23,365.49 L200.39,365.65 L200.55,365.82 L200.72,365.99 L200.89,366.15 L201.07,366.32 L201.25,366.49 L201.43,366.65 L201.61,366.82 L201.78,366.99 L201.95,367.16 L202.11,367.32 L202.27,367.49 L202.41,367.66 L202.54,367.82 L202.65,367.99 L202.75,368.16 L202.84,368.32 L202.9,368.49 L202.95,368.66 L202.99,368.82 L203,368.99 L202.99,369.16 L202.97,369.32 L202.93,369.49 L202.87,369.66 L202.79,369.82 L202.7,369.99 L202.59,370.16 L202.46,370.33 L202.33,370.49 L202.18,370.66 L202.02,370.83 L201.85,370.99 L201.68,371.16 L201.5,371.33 L201.32,371.49 L201.14,371.66 L200.96,371.83 L200.79,371.99 L200.62,372.16 L200.45,372.33 L200.3,372.49 L200.15,372.66 L200.01,372.83 L199.89,373 L199.79,373.16 L199.7,373.33 L199.62,373.5 L199.56,373.66 L199.52,373.83 L199.5,374 L199.5,374.16 L199.52,374.33 L199.55,374.5 L199.61,374.66 L199.68,374.83 L199.76,375 L199.87,375.16 L199.98,375.33 L200.12,375.5 L200.26,375.66 L200.41,375.83 L200.58,376 L200.75,376.17 L200.92,376.33 L201.1,376.5 L201.28,376.67 L201.46,376.83 L201.64,377 L201.81,377.17 L201.98,377.33 L202.14,377.5" fill="none" stroke="#b5b5b6" stroke-width="1.6"/><path d="M303.64,317.1 L303.53,317.27 L303.43,317.43 L303.35,317.6 L303.29,317.77 L303.24,317.93 L303.21,318.1 L303.2,318.27 L303.21,318.43 L303.24,318.6 L303.28,318.77 L303.34,318.94 L303.42,319.1 L303.52,319.27 L303.63,319.44 L303.76,319.6 L303.9,319.77 L304.05,319.94 L304.21,320.1 L304.37,320.27 L304.55,320.44 L304.72,320.6 L304.9,320.77 L305.09,320.94 L305.26,321.1 L305.44,321.27 L305.61,321.44 L305.77,321.6 L305.93,321.77 L306.07,321.94 L306.21,322.11 L306.32,322.27 L306.43,322.44 L306.52,322.61 L306.59,322.77 L306.64,322.94 L306.68,323.11 L306.7,323.27 L306.7,323.44 L306.68,323.61 L306.64,323.77 L306.58,323.94 L306.51,324.11 L306.42,324.27 L306.32,324.44 L306.2,324.61 L306.06,324.78 L305.92,324.94 L305.76,325.11 L305.6,325.28 L305.43,325.44 L305.25,325.61 L305.07,325.78 L304.89,325.94 L304.71,326.11 L304.53,326.28 L304.36,326.44 L304.19,326.61 L304.03,326.78 L303.89,326.94 L303.75,327.11 L303.62,327.28 L303.51,327.44 L303.42,327.61 L303.34,327.78 L303.28,327.95 L303.23,328.11 L303.21,328.28 L303.2,328.45 L303.21,328.61 L303.24,328.78 L303.29,328.95 L303.36,329.11 L303.44,329.28 L303.54,329.45 L303.65,329.61 L303.78,329.78 L303.92,329.95 L304.07,330.11 L304.23,330.28 L304.4,330.45 L304.58,330.61 L304.75,330.78 L304.93,330.95 L305.12,331.12 L305.29,331.28 L305.47,331.45 L305.64,331.62 L305.8,331.78 L305.95,331.95 L306.1,332.12 L306.23,332.28 L306.34,332.45 L306.45,332.62 L306.53,332.78 L306.6,332.95 L306.65,333.12 L306.68,333.28 L306.7,333.45 L306.7,333.62 L306.67,333.79 L306.63,333.95 L306.57,334.12 L306.5,334.29 L306.4,334.45 L306.3,334.62 L306.17,334.79 L306.04,334.95 L305.89,335.12 L305.73,335.29 L305.57,335.45 L305.4,335.62 L305.22,335.79 L305.04,335.95 L304.86,336.12 L304.68,336.29 L304.5,336.45 L304.33,336.62 L304.17,336.79 L304.01,336.96 L303.86,337.12 L303.73,337.29 L303.6,337.46 L303.5,337.62 L303.4,337.79 L303.33,337.96 L303.27,338.12 L303.23,338.29 L303.2,338.46 L303.2,338.62 L303.22,338.79 L303.25,338.96 L303.3,339.12 L303.37,339.29 L303.45,339.46 L303.56,339.62 L303.67,339.79 L303.8,339.96 L303.95,340.13 L304.1,340.29 L304.26,340.46 L304.43,340.63 L304.61,340.79 L304.78,340.96 L304.97,341.13 L305.15,341.29 L305.32,341.46 L305.5,341.63 L305.67,341.79 L305.83,341.96 L305.98,342.13 L306.12,342.29 L306.25,342.46 L306.36,342.63 L306.46,342.8 L306.54,342.96 L306.61,343.13 L306.66,343.3 L306.69,343.46 L306.7,343.63 L306.69,343.8 L306.67,343.96 L306.62,344.13 L306.56,344.3 L306.48,344.46 L306.39,344.63 L306.28,344.8 L306.15,344.96 L306.01,345.13 L305.87,345.3 L305.71,345.46 L305.54,345.63 L305.37,345.8 L305.19,345.97 L305.01,346.13 L304.83,346.3 L304.65,346.47 L304.47,346.63 L304.3,346.8 L304.14,346.97 L303.98,347.13 L303.84,347.3 L303.7,347.47 L303.58,347.63 L303.48,347.8 L303.39,347.97 L303.32,348.13 L303.26,348.3 L303.22,348.47 L303.2,348.63 L303.2,348.8 L303.22,348.97 L303.26,349.14 L303.31,349.3 L303.38,349.47 L303.47,349.64 L303.58,349.8 L303.69,349.97 L303.83,350.14 L303.97,350.3 L304.13,350.47 L304.29,350.64 L304.46,350.8 L304.64,350.97 L304.81,351.14 L305,351.3 L305.18,351.47 L305.35,351.64 L305.53,351.8 L305.69,351.97 L305.85,352.14 L306,352.31 L306.14,352.47 L306.27,352.64 L306.38,352.81 L306.48,352.97 L306.56,353.14 L306.62,353.31 L306.66,353.47 L306.69,353.64 L306.7,353.81 L306.69,353.97 L306.66,354.14 L306.61,354.31 L306.55,354.47 L306.47,354.64 L306.37,354.81 L306.26,354.98 L306.13,355.14 L305.99,355.31 L305.84,355.48 L305.68,355.64 L305.51,355.81 L305.34,355.98 L305.16,356.14 L304.98,356.31 L304.8,356.48 L304.62,356.64 L304.44,356.81 L304.27,356.98 L304.11,357.14 L303.96,357.31 L303.81,357.48 L303.68,357.64 L303.57,357.81 L303.46,357.98 L303.38,358.15 L303.31,358.31 L303.25,358.48 L303.22,358.65 L303.2,358.81 L303.2,358.98 L303.22,359.15 L303.26,359.31 L303.32,359.48 L303.4,359.65 L303.49,359.81 L303.59,359.98 L303.72,360.15 L303.85,360.31 L304,360.48 L304.15,360.65 L304.32,360.81 L304.49,360.98 L304.67,361.15 L304.84,361.32 L305.03,361.48 L305.21,361.65 L305.38,361.82 L305.56,361.98 L305.72,362.15 L305.88,362.32 L306.03,362.48 L306.16,362.65 L306.29,362.82 L306.4,362.98 L306.49,363.15 L306.57,363.32 L306.63,363.48 L306.67,363.65 L306.69,363.82 L306.7,363.99 L306.69,364.15 L306.65,364.32 L306.6,364.49 L306.54,364.65 L306.45,364.82 L306.35,364.99 L306.24,365.15 L306.11,365.32 L305.97,365.49 L305.81,365.65 L305.65,365.82 L305.48,365.99 L305.31,366.15 L305.13,366.32 L304.95,366.49 L304.77,366.65 L304.59,366.82 L304.42,366.99 L304.25,367.16 L304.09,367.32 L303.93,367.49 L303.79,367.66 L303.66,367.82 L303.55,367.99 L303.45,368.16 L303.36,368.32 L303.3,368.49 L303.25,368.66 L303.21,368.82 L303.2,368.99 L303.21,369.16 L303.23,369.32 L303.27,369.49 L303.33,369.66 L303.41,369.82 L303.5,369.99 L303.61,370.16 L303.74,370.33 L303.87,370.49 L304.02,370.66 L304.18,370.83 L304.35,370.99 L304.52,371.16 L304.7,371.33 L304.88,371.49 L305.06,371.66 L305.24,371.83 L305.41,371.99 L305.58,372.16 L305.75,372.33 L305.9,372.49 L306.05,372.66 L306.19,372.83 L306.31,373 L306.41,373.16 L306.5,373.33 L306.58,373.5 L306.64,373.66 L306.68,373.83 L306.7,374 L306.7,374.16 L306.68,374.33 L306.65,374.5 L306.59,374.66 L306.52,374.83 L306.44,375 L306.33,375.16 L306.22,375.33 L306.08,375.5 L305.94,375.66 L305.79,375.83 L305.62,376 L305.45,376.17 L305.28,376.33 L305.1,376.5 L304.92,376.67 L304.74,376.83 L304.56,377 L304.39,377.17 L304.22,377.33 L304.06,377.5" fill="none" stroke="#b5b5b6" stroke-width="1.6"/><rect x="114" y="220.6" width="42.5" height="43.3" fill="url(#dots2)" stroke="#d9694a" stroke-width="2.0"/><clipPath id="clip550"><rect x="167" y="220.6" width="172" height="86.5"/></clipPath><rect x="167" y="220.6" width="172" height="86.5" fill="url(#dots2)"/><g clip-path="url(#clip550)"><path d="M195,220.6 V307.1 M209.5,220.6 V307.1 M224,220.6 V307.1 M238.5,220.6 V307.1 M253,220.6 V307.1 M267.5,220.6 V307.1 M282,220.6 V307.1 M296.5,220.6 V307.1 M311,220.6 V307.1" stroke="#d9694a" stroke-width="1.65" fill="none"/><polygon points="133,129.35 373,369.35 373,398.35 133,158.35" fill="#fff"/><polygon points="133,369.35 373,129.35 373,158.35 133,398.35" fill="#fff"/><path d="M238.5,263.85 L118.5,143.85 M238.5,263.85 L118.5,383.85 M253,249.35 L133,129.35 M253,249.35 L373,129.35 M267.5,263.85 L387.5,143.85 M267.5,263.85 L387.5,383.85 M253,278.35 L133,398.35 M253,278.35 L373,398.35" stroke="#d9694a" stroke-width="1.8" fill="none" stroke-linejoin="miter"/></g><rect x="167" y="220.6" width="172" height="86.5" fill="none" stroke="#d9694a" stroke-width="2.0"/><path d="M165,173 H274.75 L281.25,220.6" fill="none" stroke="#d9694a" stroke-width="1.9" stroke-dasharray="6.0 4.1" stroke-dashoffset="3.7" stroke-linejoin="round"/></g>
<text x="255.9" y="476.4" font-family="Liberation Sans" font-size="28.4" fill="#0a0a0a" textLength="53.2" lengthAdjust="spacingAndGlyphs">SLM</text><text x="316.7" y="476.4" font-family="Liberation Sans" font-size="28.4" fill="#0a0a0a" textLength="46.3" lengthAdjust="spacingAndGlyphs">and</text><text x="370.8" y="476.4" font-family="Liberation Sans" font-size="28.4" fill="#0a0a0a" textLength="72" lengthAdjust="spacingAndGlyphs">DMLS</text><text x="450.5" y="476.4" font-family="Liberation Sans" font-size="28.4" fill="#0a0a0a" textLength="69.1" lengthAdjust="spacingAndGlyphs">metal</text><text x="527.1" y="476.4" font-family="Liberation Sans" font-size="28.4" fill="#0a0a0a" textLength="35.3" lengthAdjust="spacingAndGlyphs">3D</text><text x="570.1" y="476.4" font-family="Liberation Sans" font-size="28.4" fill="#0a0a0a" textLength="95.9" lengthAdjust="spacingAndGlyphs">printing</text><text x="674.3" y="476.4" font-family="Liberation Sans" font-size="28.4" fill="#0a0a0a" textLength="93" lengthAdjust="spacingAndGlyphs">process</text>
</svg>
</body></html>
